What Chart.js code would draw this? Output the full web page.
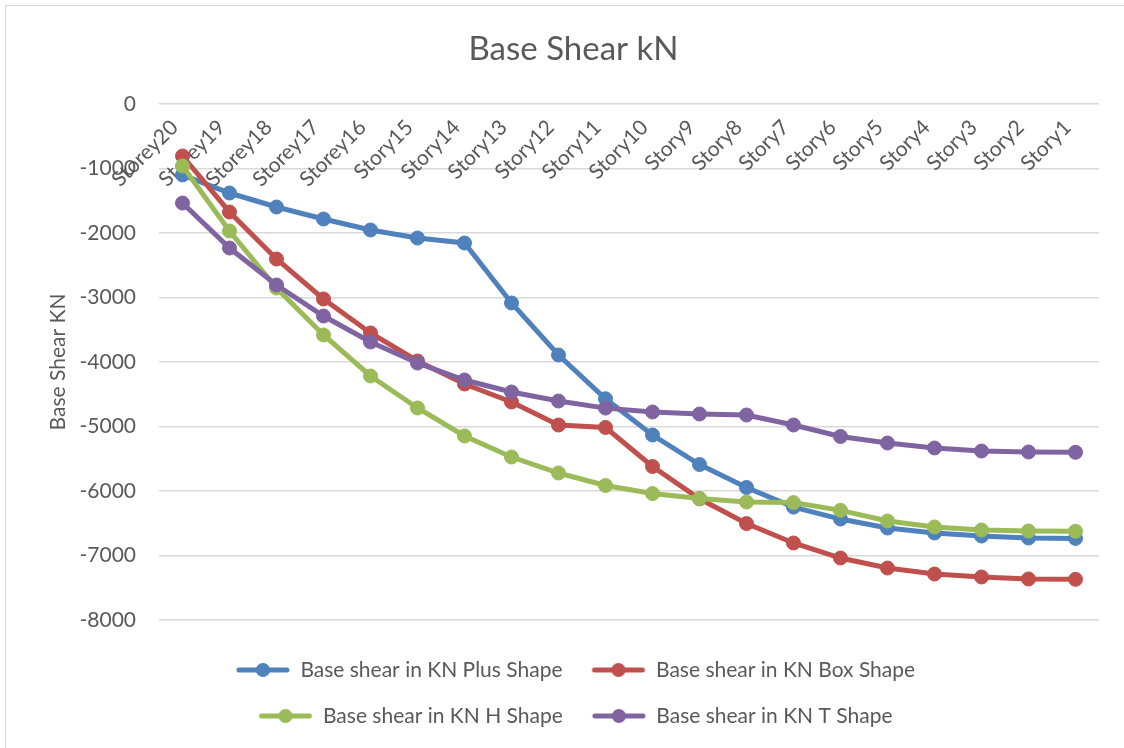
<!DOCTYPE html>
<html>
<head>
<meta charset="utf-8">
<title>Base Shear kN</title>
<script src="https://cdn.jsdelivr.net/npm/chart.js@4"></script>
<style>
  html, body { margin: 0; padding: 0; background: #fff; overflow: hidden; }
  #wrap { position: absolute; left: 0; top: 0; width: 1124px; height: 748px; }
  #frame { position: absolute; left: 5px; top: 5px; width: 1200px; height: 800px;
           border: 1px solid #d9d9d9; pointer-events: none; }
</style>
</head>
<body>
<div id="wrap"><canvas id="chart" width="1124" height="748"></canvas></div>
<div id="frame"></div>
<script>
// storey labels, top floor first
const storeys = ['Storey20', 'Storey19', 'Storey18', 'Storey17', 'Storey16', 'Story15', 'Story14',
  'Story13', 'Story12', 'Story11', 'Story10', 'Story9', 'Story8', 'Story7', 'Story6', 'Story5',
  'Story4', 'Story3', 'Story2', 'Story1'];

// base shear (kN)
const plusShape = [-1100, -1380, -1597, -1783, -1953, -2078, -2155, -3085, -3891, -4570,
  -5132, -5590, -5945, -6250, -6435, -6574, -6651, -6698, -6729, -6735];
const boxShape = [-806, -1674, -2403, -3023, -3550, -3984, -4341, -4620, -4977, -5015,
  -5620, -6120, -6505, -6806, -7039, -7194, -7287, -7333, -7364, -7370];
const hShape = [-961, -1969, -2853, -3581, -4217, -4713, -5147, -5473, -5721, -5915,
  -6040, -6115, -6171, -6180, -6300, -6465, -6558, -6605, -6620, -6625];
const tShape = [-1535, -2233, -2806, -3287, -3690, -4016, -4279, -4465, -4605, -4715,
  -4775, -4806, -4822, -4977, -5155, -5256, -5333, -5380, -5395, -5400];

const yTicks = [0, -1000, -2000, -3000, -4000, -5000, -6000, -7000, -8000];

const seriesNames = ['Base shear in KN Plus Shape', 'Base shear in KN Box Shape',
  'Base shear in KN H Shape', 'Base shear in KN T Shape'];
const seriesColors = ['#4f81bd', '#c0504d', '#9bbb59', '#8064a2'];

const textColor = '#595959';
const gridColor = '#d9d9d9';
const fontFamily = 'Lato, "Open Sans", sans-serif';

// legend marker: line with a dot (small empty lead so rows wrap two by two)
const iconGap = 4;
function makeIcon(color) {
  const c = document.createElement('canvas');
  c.width = iconGap + 54;
  c.height = 16;
  const g = c.getContext('2d');
  g.strokeStyle = color;
  g.lineWidth = 5;
  g.lineCap = 'round';
  g.beginPath();
  g.moveTo(iconGap + 3, 8);
  g.lineTo(iconGap + 51, 8);
  g.stroke();
  g.fillStyle = color;
  g.beginPath();
  g.arc(iconGap + 27, 8, 7, 0, Math.PI * 2);
  g.fill();
  return c;
}
const icons = seriesColors.map(makeIcon);

const allValues = [plusShape, boxShape, hShape, tShape];

new Chart(document.getElementById('chart'), {
  type: 'line',
  data: {
    labels: storeys,
    datasets: allValues.map((vals, i) => ({
      label: seriesNames[i],
      data: vals,
      borderColor: seriesColors[i],
      backgroundColor: seriesColors[i],
      borderWidth: 5,
      pointRadius: 7,
      pointHoverRadius: 7,
      pointBorderWidth: 1,
      tension: 0,
      order: 4 - i   // later series drawn on top
    }))
  },
  options: {
    responsive: false,
    animation: false,
    layout: { padding: { left: 48, right: 25, top: 0, bottom: 11.5 } },
    plugins: {
      title: {
        display: true,
        text: 'Base Shear kN',
        color: textColor,
        font: { family: fontFamily, size: 33, weight: 'normal' },
        padding: { top: 30, bottom: 34.4 }
      },
      legend: {
        position: 'bottom',
        title: { display: true, text: '', font: { size: 1 }, padding: { top: 0, bottom: 13.3 } },
        labels: {
          usePointStyle: true,
          pointStyleWidth: iconGap + 54,
          padding: 25,
          color: textColor,
          font: { family: fontFamily, size: 21 },
          generateLabels(chart) {
            const items = Chart.defaults.plugins.legend.labels.generateLabels(chart);
            items.forEach(it => { it.pointStyle = icons[it.datasetIndex]; });
            return items.sort((a, b) => a.datasetIndex - b.datasetIndex);
          }
        }
      },
      tooltip: { enabled: false }
    },
    scales: {
      x: {
        position: { y: 0 },
        offset: true,
        grid: { display: false, drawTicks: false },
        border: { display: false },
        ticks: {
          autoSkip: false,
          minRotation: 45,
          maxRotation: 45,
          padding: 11,
          labelOffset: -8,
          color: textColor,
          font: { family: fontFamily, size: 21 }
        }
      },
      y: {
        min: -8000,
        max: 0,
        afterFit(scale) { scale.width = 111; },
        afterBuildTicks(scale) { scale.ticks = yTicks.map(v => ({ value: v })); },
        grid: { color: gridColor, lineWidth: 1.5, drawTicks: false },
        border: { display: false },
        ticks: {
          padding: 23,
          color: textColor,
          font: { family: fontFamily, size: 21 },
          callback: v => String(v)
        },
        title: {
          display: true,
          text: 'Base Shear KN',
          color: textColor,
          font: { family: fontFamily, size: 21, lineHeight: 1 },
          padding: 0
        }
      }
    }
  }
});
</script>
</body>
</html>
